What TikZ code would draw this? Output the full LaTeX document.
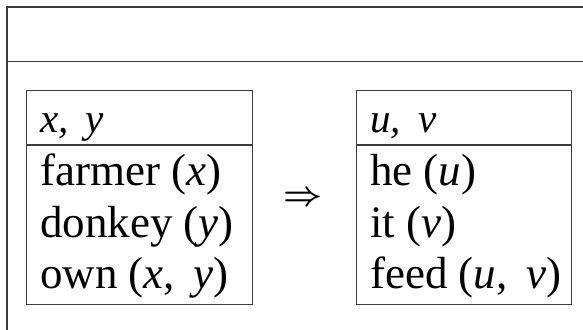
\RequirePackage{fix-cm}
\documentclass[tikz,border=0pt]{standalone}
\usepackage{fontspec}
\setmainfont{Liberation Serif}
\usetikzlibrary{positioning}
\definecolor{ink}{RGB}{60,60,60}
\tikzset{
  frame/.style={draw=ink,line width=1.1pt,anchor=north west,inner sep=0pt},
  vars/.style={anchor=base west,inner sep=0pt,font=\fontsize{41}{48}\selectfont\itshape},
  word/.style={anchor=base west,inner sep=0pt,font=\fontsize{45}{52}\selectfont},
}
\begin{document}
\begin{tikzpicture}[x=1pt,y=-1pt]
  \useasboundingbox (0,0) rectangle (583,329);
  % outer page, runs off the right and bottom
  \begin{scope}
    \clip (0,0) rectangle (583,329);
    \draw[draw=ink,line width=1.3pt] (7,7) rectangle (620,360);
    \draw[draw=ink,line width=1.3pt] (7,61.5) -- (620,61.5);
  \end{scope}
  % left box
  \node[frame,minimum width=226pt,minimum height=53.5pt] (lhead) at (26,90) {};
  \node[frame,minimum width=226pt,minimum height=159.5pt,below=0pt of lhead] (lbody) {};
  \node[vars] (lvars) at (40,132) {x,\, y};
  \node[word] (lfarmer) at (40,185) {farmer (\textit{x})};
  \node[word] (ldonkey) at (40,237) {donkey (\textit{y})};
  \node[word] (lown) at (40,288) {own (\textit{x},\, \textit{y})};
  % right box
  \node[frame,minimum width=215pt,minimum height=53.5pt] (rhead) at (356,90) {};
  \node[frame,minimum width=215pt,minimum height=159.5pt,below=0pt of rhead] (rbody) {};
  \node[vars] (rvars) at (370,132) {u,\, v};
  \node[word] (rhe) at (370,185) {he (\textit{u})};
  \node[word] (rit) at (370,237) {it (\textit{v})};
  \node[word] (rfeed) at (370,288) {feed (\textit{u},\, \textit{v})};
  \node[inner sep=0pt,font=\fontsize{34}{40}\selectfont\boldmath] (imp) at (303.5,198.5) {$\Rightarrow$};
\end{tikzpicture}
\end{document}
